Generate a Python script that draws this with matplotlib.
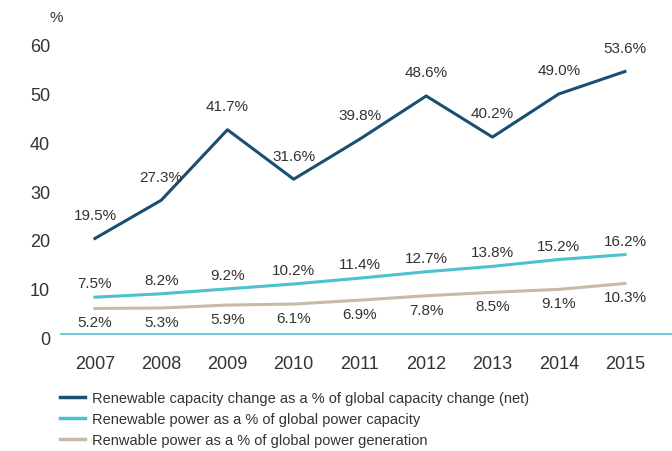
import matplotlib.pyplot as plt
import matplotlib.transforms as mtransforms
from matplotlib.lines import Line2D

plt.rcParams['font.family'] = ['Liberation Sans Narrow', 'Liberation Sans', 'DejaVu Sans']

# dados
anos = [2007, 2008, 2009, 2010, 2011, 2012, 2013, 2014, 2015]
cap_change = [19.5, 27.3, 41.7, 31.6, 39.8, 48.6, 40.2, 49.0, 53.6]
power_cap = [7.5, 8.2, 9.2, 10.2, 11.4, 12.7, 13.8, 15.2, 16.2]
power_gen = [5.2, 5.3, 5.9, 6.1, 6.9, 7.8, 8.5, 9.1, 10.3]
nomes = ['Renewable capacity change as a % of global capacity change (net)',
         'Renewable power as a % of global power capacity',
         'Renwable power as a % of global power generation']

c_navy = '#1b4f72'
c_cyan = '#4cc1cf'
c_beige = '#c9b9a9'
c_text = '#333333'

fig = plt.figure(figsize=(6.72, 4.52), dpi=100)
ax = fig.add_axes([0.091, 0.259, 0.909, 0.65])

ax.plot(anos, cap_change, color=c_navy, linewidth=2.2)
ax.plot(anos, power_cap, color=c_cyan, linewidth=2.2)
ax.plot(anos, power_gen, color=c_beige, linewidth=2.2)

for x, y in zip(anos, cap_change):
    ax.annotate(f'{y:.1f}%', (x, y), xytext=(0, 12), textcoords='offset points',
                ha='center', va='bottom', fontsize=11, color=c_text)
for x, y in zip(anos, power_cap):
    ax.annotate(f'{y:.1f}%', (x, y), xytext=(0, 5), textcoords='offset points',
                ha='center', va='bottom', fontsize=11, color=c_text)
for x, y in zip(anos, power_gen):
    ax.annotate(f'{y:.1f}%', (x, y), xytext=(0, -5), textcoords='offset points',
                ha='center', va='top', fontsize=11, color=c_text)

ax.set_xlim(2006.49, 2015.71)
ax.set_ylim(0, 60)
ax.set_xticks(anos)
ax.set_yticks([0, 10, 20, 30, 40, 50, 60])
ax.tick_params(length=0, labelsize=13, colors=c_text)
ax.tick_params(axis='x', pad=15)
ax.tick_params(axis='y', pad=8)

# rótulos do eixo y um pouco abaixo das linhas
desloc = mtransforms.ScaledTranslation(0, -4 / 100, fig.dpi_scale_trans)
for lbl in ax.get_yticklabels():
    lbl.set_transform(lbl.get_transform() + desloc)

for s in ['top', 'right', 'left']:
    ax.spines[s].set_visible(False)
ax.spines['bottom'].set_color(c_cyan)
ax.spines['bottom'].set_linewidth(1.2)

fig.text(0.074, 0.96, '%', fontsize=11, color=c_text, ha='left', va='center')

handles = [Line2D([], [], color=c, linewidth=2.5) for c in [c_navy, c_cyan, c_beige]]
fig.legend(handles, nomes, loc='upper left', bbox_to_anchor=(0.089, 0.133),
           frameon=False, fontsize=10.5, handlelength=1.75, handletextpad=0.45,
           labelspacing=0.48, borderaxespad=0, borderpad=0, labelcolor=c_text)

fig.savefig('out.png', dpi=100)
